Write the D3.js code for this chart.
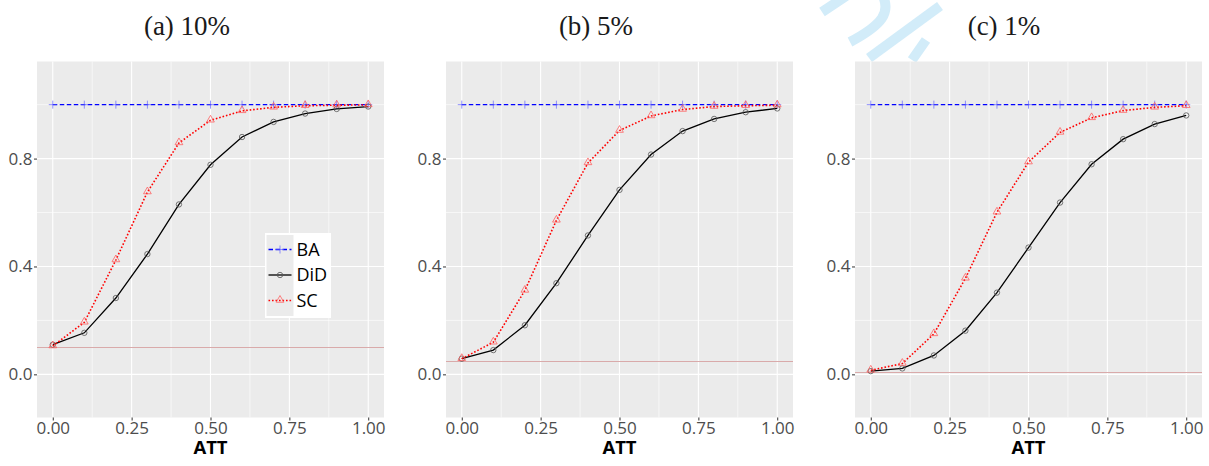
<!doctype html>
<html>
<head>
<meta charset="utf-8">
<title>ATT power curves</title>
<script src="https://cdn.jsdelivr.net/npm/d3@7"></script>
<style>
  body { margin: 0; background: #fff; }
  svg { display: block; }
</style>
</head>
<body>
<svg id="chart" width="1209" height="466"></svg>
<script>
// data
var att = [0, 0.1, 0.2, 0.3, 0.4, 0.5, 0.6, 0.7, 0.8, 0.9, 1.0];
var baA = [1, 1, 1, 1, 1, 1, 1, 1, 1, 1, 1];
var didA = [0.110, 0.154, 0.283, 0.446, 0.630, 0.777, 0.880, 0.936, 0.967, 0.984, 0.993];
var scA = [0.105, 0.193, 0.424, 0.676, 0.858, 0.942, 0.977, 0.990, 0.996, 0.998, 0.999];
var baB = [1, 1, 1, 1, 1, 1, 1, 1, 1, 1, 1];
var didB = [0.058, 0.090, 0.182, 0.338, 0.515, 0.684, 0.815, 0.902, 0.947, 0.972, 0.986];
var scB = [0.058, 0.119, 0.311, 0.571, 0.784, 0.904, 0.958, 0.982, 0.993, 0.996, 0.998];
var baC = [1, 1, 1, 1, 1, 1, 1, 1, 1, 1, 1];
var didC = [0.012, 0.022, 0.070, 0.162, 0.303, 0.470, 0.637, 0.779, 0.872, 0.928, 0.960];
var scC = [0.015, 0.040, 0.150, 0.356, 0.601, 0.787, 0.897, 0.951, 0.978, 0.990, 0.996];
var levels = [0.10, 0.05, 0.01];
var titles = ["(a) 10%", "(b) 5%", "(c) 1%"];
var seriesNames = ["BA", "DiD", "SC"];
var xTicks = [0, 0.25, 0.5, 0.75, 1];
var yTicks = [0, 0.4, 0.8];

var svg = d3.select("#chart");
var font = "'Open Sans', 'Noto Sans', sans-serif";

// watermark stripes (decoration in the top gap)
var wm = svg.append("g").attr("fill", "none").attr("stroke", "#d2ecf9").attr("stroke-width", 10);
wm.append("path").attr("d", "M822,12 L846,-4");
wm.append("path").attr("d", "M883,-4 C890,12 884,24 850,42");
wm.append("path").attr("d", "M869,58 L940,6");
wm.append("path").attr("d", "M926,40 L912,60");

var styles = {
  BA: {color: "#0000ff", dash: "4.5,2.5", width: 1.3},
  DiD: {color: "#000000", dash: null, width: 1.3},
  SC: {color: "#ff0000", dash: "1.6,1.9", width: 1.6}
};

function marker(g, name, x, y) {
  if (name === "BA") {
    g.append("path").attr("d", "M" + (x - 4) + "," + y + "h8M" + x + "," + (y - 4) + "v8")
      .attr("stroke", "#5a5aff").attr("stroke-opacity", 0.65).attr("stroke-width", 1).attr("fill", "none");
  } else if (name === "DiD") {
    g.append("circle").attr("cx", x).attr("cy", y).attr("r", 2.7)
      .attr("fill", "none").attr("stroke", "#555").attr("stroke-opacity", 0.8).attr("stroke-width", 1);
  } else {
    g.append("path").attr("d", d3.symbol().type(d3.symbolTriangle).size(26)())
      .attr("transform", "translate(" + x + "," + (y - 0.5) + ")")
      .attr("fill", "none").attr("stroke", "#ff5a5a").attr("stroke-opacity", 0.75).attr("stroke-width", 1);
  }
}

var panels = [
  {left: 37, title: titles[0], titleX: 187, level: levels[0], series: [baA, didA, scA], legend: true},
  {left: 446, title: titles[1], titleX: 596, level: levels[1], series: [baB, didB, scB], legend: false},
  {left: 855, title: titles[2], titleX: 1004, level: levels[2], series: [baC, didC, scC], legend: false}
];
var pw = 347, pTop = 61.5, pBottom = 417.5;

panels.forEach(function (p) {
  var x = d3.scaleLinear().domain([-0.05, 1.05]).range([p.left, p.left + pw]);
  var y = d3.scaleLinear().domain([-0.16, 1.16]).range([pBottom, pTop]);
  var g = svg.append("g");

  svg.append("text").attr("x", p.titleX).attr("y", 34.5).attr("text-anchor", "middle")
    .attr("font-family", "'Liberation Serif', 'DejaVu Serif', serif").attr("font-size", 27)
    .attr("fill", "#1a1a1a").text(p.title);

  g.append("rect").attr("x", p.left).attr("y", pTop).attr("width", pw).attr("height", pBottom - pTop)
    .attr("fill", "#ebebeb");

  // grid lines
  var minorX = [0.125, 0.375, 0.625, 0.875];
  var minorY = [0.2, 0.6, 1.0];
  g.selectAll(".mx").data(minorX).enter().append("line")
    .attr("x1", x).attr("x2", x).attr("y1", pTop).attr("y2", pBottom)
    .attr("stroke", "#fff").attr("stroke-width", 0.6);
  g.selectAll(".my").data(minorY).enter().append("line")
    .attr("y1", y).attr("y2", y).attr("x1", p.left).attr("x2", p.left + pw)
    .attr("stroke", "#fff").attr("stroke-width", 0.6);
  g.selectAll(".gx").data(xTicks).enter().append("line")
    .attr("x1", x).attr("x2", x).attr("y1", pTop).attr("y2", pBottom)
    .attr("stroke", "#fff").attr("stroke-width", 1.1);
  g.selectAll(".gy").data(yTicks).enter().append("line")
    .attr("y1", y).attr("y2", y).attr("x1", p.left).attr("x2", p.left + pw)
    .attr("stroke", "#fff").attr("stroke-width", 1.1);

  // nominal level
  var ly = Math.round(y(p.level)) + 0.5;
  g.append("line").attr("x1", p.left).attr("x2", p.left + pw)
    .attr("y1", ly).attr("y2", ly)
    .attr("stroke", "#d9aaaa").attr("stroke-width", 1.2);

  // axes
  var ax = g.append("g").attr("transform", "translate(0," + pBottom + ")")
    .call(d3.axisBottom(x).tickValues(xTicks).tickFormat(d3.format(".2f")).tickSize(3).tickPadding(1.5));
  var ay = g.append("g").attr("transform", "translate(" + p.left + ",0)")
    .call(d3.axisLeft(y).tickValues(yTicks).tickFormat(d3.format(".1f")).tickSize(3).tickPadding(1.5));
  [ax, ay].forEach(function (a) {
    a.attr("font-size", 17).attr("font-family", font);
    a.select(".domain").remove();
    a.selectAll("line").attr("stroke", "#333");
    a.selectAll("text").attr("fill", "#4d4d4d");
  });

  g.append("text").attr("x", p.left + pw / 2).attr("y", 453.5).attr("text-anchor", "middle")
    .attr("font-family", font).attr("font-weight", "bold").attr("font-size", 18.5).attr("fill", "#000")
    .text("ATT");

  // series
  var line = d3.line().x(function (d, i) { return x(att[i]); }).y(function (d) { return y(d); });
  p.series.forEach(function (vals, k) {
    var name = seriesNames[k], s = styles[name];
    g.append("path").datum(vals).attr("d", line).attr("fill", "none")
      .attr("stroke", s.color).attr("stroke-width", s.width)
      .attr("stroke-dasharray", s.dash);
    vals.forEach(function (v, i) { marker(g, name, x(att[i]), y(v)); });
  });

  if (p.legend) {
    var lg = g.append("g");
    lg.append("rect").attr("x", 265).attr("y", 233).attr("width", 66).attr("height", 85).attr("fill", "#fff");
    lg.append("rect").attr("x", 266.5).attr("y", 235).attr("width", 27).attr("height", 81).attr("fill", "#ebebeb");
    seriesNames.forEach(function (name, k) {
      var cy = 249.5 + k * 25.5, s = styles[name];
      lg.append("line").attr("x1", 268.5).attr("x2", 291.5).attr("y1", cy).attr("y2", cy)
        .attr("stroke", s.color).attr("stroke-width", s.width).attr("stroke-dasharray", s.dash);
      marker(lg, name, 280, cy);
      lg.append("text").attr("x", 296.5).attr("y", cy).attr("dy", "0.36em")
        .attr("font-family", font).attr("font-size", 18).attr("fill", "#000").text(name);
    });
  }
});
</script>
</body>
</html>
